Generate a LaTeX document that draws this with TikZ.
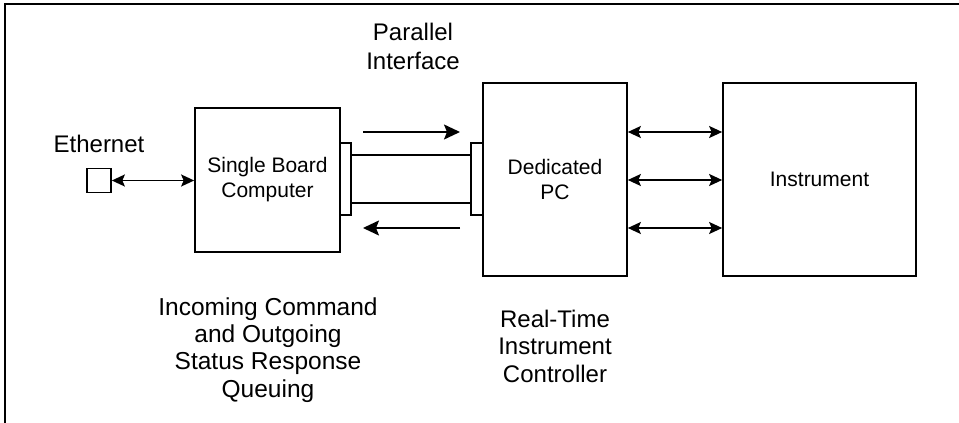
\documentclass[tikz,border=0pt]{standalone}
\usepackage{fontspec}
\setmainfont{Liberation Sans}
\usetikzlibrary{arrows.meta,calc}
\tikzset{
  box/.style={draw, line width=1.7pt, inner sep=0pt, fill=white},
  lbl/.style={align=center, inner sep=0pt, font=\fontsize{24}{27.5}\selectfont},
  boxtxt/.style={align=center, inner sep=0pt, font=\fontsize{21}{25}\selectfont},
  link/.style={line width=1.7pt, {Stealth[length=13pt,width=12pt,inset=2.5pt]}-{Stealth[length=13pt,width=12pt,inset=2.5pt]}},
  flow/.style={line width=1.7pt, -{Stealth[length=16pt,width=15pt,inset=3pt]}},
  cable/.style={line width=1.7pt}
}
\begin{document}
\begin{tikzpicture}[x=1pt,y=-1pt]
\useasboundingbox (0,0) rectangle (959,423);
\draw[line width=1.3pt] (5,423) -- (5,4) -- (959,4);
% boxes
\node[box, minimum width=145pt, minimum height=144pt] (sbc) at (267.5,180) {};
\node[box, minimum width=144pt, minimum height=193pt] (pc) at (555,179.5) {};
\node[box, minimum width=193pt, minimum height=193pt] (inst) at (819.5,179.5) {};
\node[box, minimum width=24pt, minimum height=24pt] (eth) at (99,180.5) {};
\node[box, minimum width=11pt, minimum height=72pt] (connL) at (345.5,179) {};
\node[box, minimum width=12pt, minimum height=72pt] (connR) at (477,179) {};
% box texts
\node[boxtxt] (sbctxt) at (sbc.center) {Single Board\\Computer};
\node[boxtxt] (pctxt) at (pc.center) {Dedicated\\PC};
\node[boxtxt, anchor=base] (insttxt) at (819.5,186) {Instrument};
% labels
\node[lbl, anchor=base] (ethlbl) at (99,152) {Ethernet};
\node[lbl, anchor=base, font=\fontsize{24}{29}\selectfont] (parlbl) at (413,69) {Parallel\\Interface};
\node[lbl, anchor=base, font=\fontsize{24.5}{27.3}\selectfont] (queue) at (268,397) {Incoming Command\\and Outgoing\\Status Response\\Queuing};
\node[lbl, anchor=base] (rtic) at (555,382) {Real-Time\\Instrument\\Controller};
% cable
\draw[cable] (connL.east |- 0,155) -- (connR.west |- 0,155);
\draw[cable] (connL.east |- 0,203) -- (connR.west |- 0,203);
% ethernet link
\draw[link] (eth.east) -- (sbc.west |- eth.east);
% PC to instrument links
\foreach \yy in {132,180,228}{
  \draw[link] (pc.east |- 0,\yy) -- (inst.west |- 0,\yy);
}
% data flow arrows
\coordinate (fa1) at (363,132);
\coordinate (fa2) at (460,132);
\coordinate (fb1) at (460,228);
\coordinate (fb2) at (363,228);
\draw[flow] (fa1) -- (fa2);
\draw[flow] (fb1) -- (fb2);
\end{tikzpicture}
\end{document}
